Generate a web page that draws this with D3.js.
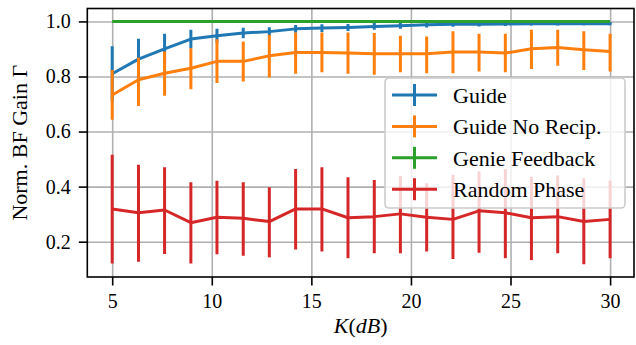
<!DOCTYPE html>
<html>
<head>
<meta charset="utf-8">
<script src="https://cdn.jsdelivr.net/npm/d3@7"></script>
<style>
body { margin: 0; background: #fff; }
text { font-family: "Liberation Serif", "DejaVu Serif", serif; fill: #000; }
</style>
</head>
<body>
<div id="canvas"></div>
<script>
// ----------------------------------------------------------
// DATA -----------------------------------------------------
// ----------------------------------------------------------
var k_values = [5, 6.32, 7.63, 8.95, 10.26, 11.58, 12.89, 14.21, 15.53, 16.84,
18.16, 19.47, 20.79, 22.11, 23.42, 24.74, 26.05, 27.37, 28.68, 30];

var guide_mean = [0.810, 0.863, 0.900, 0.936, 0.948, 0.958, 0.963, 0.973, 0.976, 0.978,
0.982, 0.984, 0.988, 0.990, 0.990, 0.991, 0.992, 0.992, 0.992, 0.992];
var guide_err = [0.100, 0.074, 0.055, 0.034, 0.025, 0.019, 0.016, 0.014, 0.014, 0.013,
0.012, 0.011, 0.010, 0.009, 0.008, 0.008, 0.007, 0.007, 0.006, 0.006];

var norecip_mean = [0.733, 0.788, 0.812, 0.830, 0.855, 0.855, 0.875, 0.887, 0.887, 0.885,
0.883, 0.883, 0.883, 0.889, 0.889, 0.885, 0.901, 0.905, 0.897, 0.891];
var norecip_low = [0.643, 0.693, 0.730, 0.754, 0.776, 0.782, 0.796, 0.810, 0.815, 0.810,
0.806, 0.815, 0.812, 0.812, 0.818, 0.815, 0.827, 0.839, 0.824, 0.818];
var norecip_high = [0.824, 0.868, 0.891, 0.903, 0.935, 0.927, 0.952, 0.960, 0.960, 0.960,
0.958, 0.948, 0.945, 0.964, 0.955, 0.955, 0.970, 0.970, 0.964, 0.955];

var genie_mean = [1, 1, 1, 1, 1, 1, 1, 1, 1, 1, 1, 1, 1, 1, 1, 1, 1, 1, 1, 1];

var random_mean = [0.319, 0.305, 0.315, 0.269, 0.289, 0.285, 0.273, 0.319, 0.319, 0.287,
0.291, 0.301, 0.289, 0.281, 0.312, 0.305, 0.287, 0.291, 0.273, 0.281];
var random_low = [0.121, 0.127, 0.155, 0.121, 0.154, 0.149, 0.143, 0.172, 0.164, 0.140,
0.158, 0.158, 0.164, 0.137, 0.160, 0.140, 0.133, 0.158, 0.118, 0.140];
var random_high = [0.516, 0.479, 0.470, 0.416, 0.421, 0.416, 0.398, 0.464, 0.470, 0.434,
0.424, 0.439, 0.412, 0.443, 0.455, 0.463, 0.436, 0.440, 0.430, 0.422];

var series_names = ["Guide", "Guide No Recip.", "Genie Feedback", "Random Phase"];
var x_ticks = [5, 10, 15, 20, 25, 30];
var y_ticks = [0.2, 0.4, 0.6, 0.8, 1.0];

var data_set =
{
container_width: 636,
container_height: 345,
plot_left: 87.3,
plot_right: 634,
plot_top: 8.5,
plot_bottom: 277,
line_width: 3,
colors: ["#1f77b4", "#ff7f0e", "#2ca02c", "#d62728"]
};

// build series table
var series = [
{ mean: guide_mean, low: guide_mean.map((m, i) => m - guide_err[i]), high: guide_mean.map((m, i) => m + guide_err[i]) },
{ mean: norecip_mean, low: norecip_low, high: norecip_high },
{ mean: genie_mean, low: genie_mean, high: genie_mean },
{ mean: random_mean, low: random_low, high: random_high }
].map((s, j) => ({
name: series_names[j],
color: data_set.colors[j],
points: k_values.map((k, i) => ({ k: k, m: s.mean[i], lo: s.low[i], hi: s.high[i] }))
}));

// ----------------------------------------------------------
// STRUCTURE ------------------------------------------------
// ----------------------------------------------------------
var container = d3.select("#canvas").append("svg")
.attr("width", data_set.container_width)
.attr("height", data_set.container_height)
.style("background-color", "#fff");

var xScale = d3.scaleLinear()
.domain([3.75, 31.2])
.range([data_set.plot_left, data_set.plot_right]);

var yScale = d3.scaleLinear()
.domain([0.0717, 1.047])
.range([data_set.plot_bottom, data_set.plot_top]);

container.append("clipPath")
.attr("id", "plot_clip")
.append("rect")
.attr("x", data_set.plot_left)
.attr("y", data_set.plot_top)
.attr("width", data_set.plot_right - data_set.plot_left)
.attr("height", data_set.plot_bottom - data_set.plot_top);

// GRID -----------------------------------------------------
var grid_group = container.append("g").attr("class", "grid_group");

grid_group.append("g")
.attr("transform", `translate(0, ${data_set.plot_bottom})`)
.call(d3.axisBottom(xScale)
.tickValues(x_ticks)
.tickSize(-(data_set.plot_bottom - data_set.plot_top))
.tickFormat(""))
.call(g => g.select(".domain").remove())
.selectAll("line")
.attr("stroke", "#b0b0b0")
.attr("stroke-width", 1.6);

grid_group.append("g")
.attr("transform", `translate(${data_set.plot_left}, 0)`)
.call(d3.axisLeft(yScale)
.tickValues(y_ticks)
.tickSize(-(data_set.plot_right - data_set.plot_left))
.tickFormat(""))
.call(g => g.select(".domain").remove())
.selectAll("line")
.attr("stroke", "#b0b0b0")
.attr("stroke-width", 1.6);

// SERIES ---------------------------------------------------
var gfx_group = container.append("g")
.attr("class", "gfx_group")
.attr("clip-path", "url(#plot_clip)");

var line = d3.line()
.x((d) => xScale(d.k))
.y((d) => yScale(d.m));

series.forEach(function (s) {
var g = gfx_group.append("g").attr("class", "gfx_series");

g.append("path")
.datum(s.points)
.attr("d", line)
.attr("fill", "none")
.attr("stroke", s.color)
.attr("stroke-width", data_set.line_width)
.attr("stroke-linejoin", "round");

g.selectAll(".err")
.data(s.points.filter((d) => d.hi > d.lo))
.enter()
.append("line")
.attr("class", "err")
.attr("x1", (d) => xScale(d.k))
.attr("x2", (d) => xScale(d.k))
.attr("y1", (d) => yScale(d.lo))
.attr("y2", (d) => yScale(d.hi))
.attr("stroke", s.color)
.attr("stroke-width", data_set.line_width);
});

// AXES -----------------------------------------------------
var axis_group = container.append("g").attr("class", "axis_group");

axis_group.append("g")
.attr("transform", `translate(0, ${data_set.plot_bottom})`)
.call(d3.axisBottom(xScale)
.tickValues(x_ticks)
.tickSize(8.5)
.tickPadding(8)
.tickFormat(d3.format("d")));

axis_group.append("g")
.attr("transform", `translate(${data_set.plot_left}, 0)`)
.call(d3.axisLeft(yScale)
.tickValues(y_ticks)
.tickSize(8.5)
.tickPadding(8)
.tickFormat(d3.format(".1f")));

axis_group.selectAll(".domain").remove();
axis_group.selectAll(".tick line")
.attr("stroke", "#000")
.attr("stroke-width", 1.6);
axis_group.selectAll(".tick text")
.style("font-family", "Liberation Serif")
.style("font-size", "20px");

// frame
axis_group.append("rect")
.attr("x", data_set.plot_left)
.attr("y", data_set.plot_top)
.attr("width", data_set.plot_right - data_set.plot_left)
.attr("height", data_set.plot_bottom - data_set.plot_top)
.attr("fill", "none")
.attr("stroke", "#000")
.attr("stroke-width", 1.6);

// axis labels
var x_label = axis_group.append("text")
.attr("x", (data_set.plot_left + data_set.plot_right) / 2)
.attr("y", 325)
.attr("dy", "0.35em")
.attr("text-anchor", "middle")
.style("font-size", "22px");
x_label.append("tspan").style("font-style", "italic").text("K");
x_label.append("tspan").text("(");
x_label.append("tspan").style("font-style", "italic").text("dB");
x_label.append("tspan").text(")");

axis_group.append("text")
.attr("transform", `translate(19, ${(data_set.plot_top + data_set.plot_bottom) / 2}) rotate(-90)`)
.attr("dy", "0.35em")
.attr("text-anchor", "middle")
.style("font-size", "22px")
.text("Norm.  BF Gain Γ");

// LEGEND ---------------------------------------------------
var legend_group = container.append("g")
.attr("class", "legend_group")
.attr("transform", "translate(385, 78)");

legend_group.append("rect")
.attr("width", 240)
.attr("height", 130)
.attr("rx", 4)
.attr("fill", "#fff")
.attr("fill-opacity", 0.8)
.attr("stroke", "#cccccc")
.attr("stroke-width", 1.6);

var legend_item = legend_group.selectAll(".legend_item")
.data(series)
.enter()
.append("g")
.attr("class", "legend_item")
.attr("transform", (d, i) => `translate(0, ${17 + i * 31.4})`);

legend_item.append("line")
.attr("x1", 7).attr("x2", 52)
.attr("y1", 0).attr("y2", 0)
.attr("stroke", (d) => d.color)
.attr("stroke-width", data_set.line_width);

legend_item.append("line")
.attr("x1", 29.5).attr("x2", 29.5)
.attr("y1", -11).attr("y2", 11)
.attr("stroke", (d) => d.color)
.attr("stroke-width", data_set.line_width);

legend_item.append("text")
.attr("x", 68)
.attr("y", 0)
.attr("dy", "0.35em")
.style("font-size", "22px")
.text((d) => d.name);
</script>
</body>
</html>
